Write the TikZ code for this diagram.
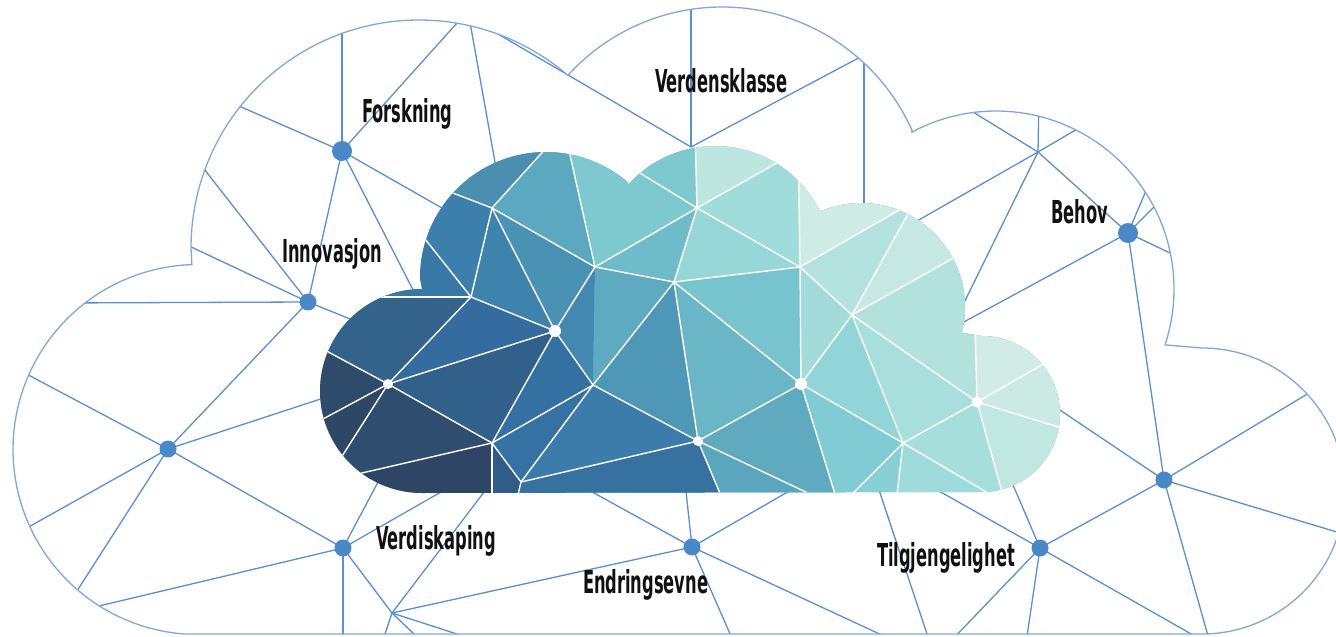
\documentclass[tikz,border=0pt]{standalone}
\usepackage{fontspec}
\newfontfamily\lblfont{DejaVu Sans}[FakeStretch=0.515]
\definecolor{netblue}{HTML}{5990CF}
\definecolor{dotblue}{HTML}{4A88C8}
\definecolor{outl}{HTML}{7FA8DA}
\definecolor{lbltext}{HTML}{111111}
\newcommand\facet[2]{\definecolor{tmpfc}{HTML}{#1}\fill[tmpfc] #2;}
\tikzset{
  outercloud/.style={insert path={(1202,634) -- (184.4,634)
    -- plot[domain=94.2:268.1,samples=90] ({198+185*cos(\x)},{449.5+185*sin(\x)})
    -- plot[domain=180:310.7,samples=90] ({419+228*cos(\x)},{248+228*sin(\x)})
    -- plot[domain=222.3:335.9,samples=70] ({722+208*cos(\x)},{215+208*sin(\x)})
    -- plot[domain=241.8:378.3,samples=70] ({996+178*cos(\x)},{289+178*sin(\x)})
    -- plot[domain=270:450,samples=90] ({1202+143*cos(\x)},{491+143*sin(\x)}) -- cycle}},
  innercloud/.style={insert path={(422,493)
    -- plot[domain=90:270,samples=70] ({422+102*cos(\x)},{391+102*sin(\x)})
    -- plot[domain=180:310.5,samples=70] ({546+126*cos(\x)},{278+126*sin(\x)})
    -- plot[domain=222:334.1,samples=60] ({715+117*cos(\x)},{263+117*sin(\x)})
    -- plot[domain=246.8:374.3,samples=60] ({861+104*cos(\x)},{307+104*sin(\x)})
    -- plot[domain=270:450,samples=60] ({982+78*cos(\x)},{414+78*sin(\x)}) -- cycle}},
  net/.style={draw=netblue, line width=0.65pt},
  wl/.style={draw=white, line width=0.7pt},
  bdot/.style={circle, fill=dotblue, inner sep=0pt, minimum size=8.5pt},
  bigdot/.style={circle, fill=dotblue, inner sep=0pt, minimum size=10pt},
  wdot/.style={circle, fill=white, inner sep=0pt, minimum size=#1},
  lbl/.style={anchor=base west, inner sep=0pt, outer sep=0pt, text=lbltext,
    font=\lblfont\bfseries\fontsize{15.8pt}{18pt}\selectfont}
}
\begin{document}
\begin{tikzpicture}[x=0.5pt,y=-0.5pt]
\useasboundingbox (0,0) rectangle (1336,636);
\fill[white] (0,0) rectangle (1336,636);
% network coordinates
\coordinate (F) at (342,151); \coordinate (I) at (308,302); \coordinate (L) at (168,449);
\coordinate (V) at (343,548); \coordinate (J1) at (392,613); \coordinate (E) at (692,547);
\coordinate (T) at (1040,548); \coordinate (R) at (1164,480); \coordinate (B) at (1128,233);
\coordinate (J2) at (1038,152); \coordinate (J3) at (691,147);
\coordinate (f1) at (342,0); \coordinate (f2) at (475,3); \coordinate (f3) at (200,89);
\coordinate (f4) at (433,329); \coordinate (f5) at (470,224);
\coordinate (t1a) at (466,0); \coordinate (t1b) at (500,190); \coordinate (t2a) at (457,10);
\coordinate (i1) at (190,151); \coordinate (i2) at (170,237); \coordinate (i3) at (60,303); \coordinate (i4) at (370,327);
\coordinate (l1) at (0,360); \coordinate (l2) at (0,543); \coordinate (l3) at (59,619); \coordinate (l4) at (345,391);
\coordinate (v1) at (61,615); \coordinate (v2) at (343,645); \coordinate (v3) at (386,467); \coordinate (v4) at (469,476);
\coordinate (j1a) at (497,475); \coordinate (j1b) at (381.5,644.5); \coordinate (j1c) at (425,644.5); \coordinate (j1d) at (489.5,644.5);
\coordinate (e1) at (685,482); \coordinate (e2) at (805,482); \coordinate (e3) at (899,643); \coordinate (e4) at (734,643); \coordinate (e5) at (574,482);
\coordinate (tt1) at (930,486); \coordinate (tt2) at (1010,478); \coordinate (tt3) at (1207,643); \coordinate (tt4) at (949,643); \coordinate (tt5) at (1026,643);
\coordinate (k1) at (877.3,485); \coordinate (k2) at (930.7,645);
\coordinate (r1) at (1048,402); \coordinate (r2) at (1334,378); \coordinate (r3) at (1370,542); \coordinate (r4) at (1212,650);
\coordinate (b1) at (1153.5,173); \coordinate (b2) at (1168,193); \coordinate (b3) at (1191,263); \coordinate (b4) at (949,330);
\coordinate (j2a) at (955,101); \coordinate (j2b) at (1039,95); \coordinate (j2c) at (1091,121); \coordinate (j2d) at (910,225); \coordinate (j2e) at (958,315);
\coordinate (j3a) at (691,0); \coordinate (j3b) at (883,45);
\coordinate (vt1) at (864,40); \coordinate (vt2) at (864,210);
% network lines
\begin{scope}
\clip[outercloud];
\draw[net] (F) -- (f1); \draw[net] (F) -- (f2); \draw[net] (F) -- (f3); \draw[net] (F) -- (f4); \draw[net] (F) -- (f5); \draw[net] (F) -- (I);
\draw[net] (t1a) -- (t1b); \draw[net] (t2a) -- (J3);
\draw[net] (I) -- (i1); \draw[net] (I) -- (i2); \draw[net] (I) -- (i3); \draw[net] (I) -- (i4); \draw[net] (I) -- (L);
\draw[net] (L) -- (l1); \draw[net] (L) -- (l2); \draw[net] (L) -- (l3); \draw[net] (L) -- (l4); \draw[net] (L) -- (V);
\draw[net] (V) -- (v1); \draw[net] (V) -- (v2); \draw[net] (V) -- (v3); \draw[net] (V) -- (v4); \draw[net] (V) -- (J1);
\draw[net] (J1) -- (j1a); \draw[net] (J1) -- (j1b); \draw[net] (J1) -- (j1c); \draw[net] (J1) -- (j1d); \draw[net] (J1) -- (E);
\draw[net] (E) -- (e1); \draw[net] (E) -- (e2); \draw[net] (E) -- (e3); \draw[net] (E) -- (e4); \draw[net] (E) -- (e5);
\draw[net] (T) -- (tt1); \draw[net] (T) -- (tt2); \draw[net] (T) -- (tt3); \draw[net] (T) -- (tt4); \draw[net] (T) -- (tt5); \draw[net] (T) -- (R);
\draw[net] (k1) -- (k2);
\draw[net] (R) -- (r1); \draw[net] (R) -- (r2); \draw[net] (R) -- (r3); \draw[net] (R) -- (r4); \draw[net] (R) -- (B);
\draw[net] (B) -- (b1); \draw[net] (B) -- (b2); \draw[net] (B) -- (b3); \draw[net] (B) -- (b4); \draw[net] (B) -- (J2);
\draw[net] (J2) -- (j2a); \draw[net] (J2) -- (j2b); \draw[net] (J2) -- (j2c); \draw[net] (J2) -- (j2d); \draw[net] (J2) -- (j2e);
\draw[net] (J3) -- (j3a); \draw[net] (J3) -- (j3b);
\draw[net] (vt1) -- (vt2);
\end{scope}
\draw[draw=outl, line width=0.65pt, outercloud];
% inner cloud coordinates
\coordinate (P1) at (492,208); \coordinate (P2) at (471,297); \coordinate (P3) at (555,331);
\coordinate (P4) at (388,384); \coordinate (P5) at (492,443); \coordinate (P6) at (593,385);
\coordinate (P7) at (595,267); \coordinate (P8) at (674,282); \coordinate (P9) at (521,482);
\coordinate (Q1) at (697,208); \coordinate (Q2) at (800,267); \coordinate (Q3) at (852,315);
\coordinate (Q4) at (801,384); \coordinate (Q5) at (698,441); \coordinate (Q6) at (903,443);
\coordinate (Q7) at (977,402);
\coordinate (a1) at (390,169); \coordinate (a2) at (557,136); \coordinate (a3) at (566,137);
\coordinate (a4) at (695,130); \coordinate (a5) at (617,159); \coordinate (a6) at (798,151);
\coordinate (a7) at (798,125); \coordinate (a8) at (915,201); \coordinate (a9) at (973,247);
\coordinate (a10) at (1075,346); \coordinate (a11) at (1074,432); \coordinate (a12) at (1005,503);
\coordinate (a14) at (896,503); \coordinate (a15) at (843,503); \coordinate (a16) at (838,504);
\coordinate (a17) at (829,503); \coordinate (a18) at (724,503); \coordinate (a19) at (516,503);
\coordinate (a20) at (492,503); \coordinate (a21) at (323,482); \coordinate (a22) at (318,494);
\coordinate (a23) at (297,433); \coordinate (a24) at (304,339); \coordinate (a25) at (300,297);
\coordinate (a26) at (402,210);
\coordinate (c1) at (300,125); \coordinate (c2) at (1090,125); \coordinate (c3) at (1090,510);
\coordinate (c4) at (300,510); \coordinate (cA) at (915,125); \coordinate (cB) at (1090,240);
\coordinate (cC) at (1090,340); \coordinate (cD) at (1090,432);
\begin{scope}
\clip[innercloud];
\fill[color={rgb,255:red,95;green,170;blue,192}] (300,120) rectangle (1090,510);
\facet{4A8FB1}{(c1) -- (a2) -- (P1) -- (a1) -- cycle}
\facet{5BA8C0}{(a2) -- (a3) -- (P7) -- (P1) -- cycle}
\facet{7EC8D0}{(a3) -- (a4) -- (Q1) -- (P7) -- cycle}
\facet{4A92B4}{(P1) -- (P7) -- (P3) -- cycle}
\facet{3E83AE}{(P1) -- (P3) -- (P2) -- cycle}
\facet{3D7FAC}{(a1) -- (P1) -- (P2) -- (a26) -- cycle}
\facet{3878A6}{(c1) -- (a1) -- (a26) -- (P2) -- (a25) -- cycle}
\facet{33628B}{(a25) -- (P2) -- (P4) -- (a24) -- cycle}
\facet{346CA0}{(P2) -- (P3) -- (P4) -- cycle}
\facet{2F4B6B}{(a24) -- (P4) -- (a23) -- cycle}
\facet{2D4765}{(a23) -- (P4) -- (a22) -- cycle}
\facet{2F4E6F}{(a22) -- (P4) -- (P5) -- (a21) -- cycle}
\facet{31608A}{(P4) -- (P3) -- (P5) -- cycle}
\facet{3470A1}{(P3) -- (P6) -- (P5) -- cycle}
\facet{4388B0}{(P3) -- (P7) -- (P6) -- cycle}
\facet{5EAAC1}{(P7) -- (P8) -- (P6) -- cycle}
\facet{4E97B6}{(P6) -- (P8) -- (Q5) -- cycle}
\facet{3571A2}{(P5) -- (P6) -- (P9) -- cycle}
\facet{2F4565}{(a21) -- (P5) -- (a20) -- (c4) -- cycle}
\facet{305C88}{(P5) -- (P9) -- (a19) -- (a20) -- cycle}
\facet{3B7CAA}{(P9) -- (P6) -- (Q5) -- cycle}
\facet{3671A0}{(a19) -- (P9) -- (Q5) -- (a18) -- cycle}
\facet{6EBBC9}{(P7) -- (Q1) -- (P8) -- cycle}
\facet{BEE6E0}{(a4) -- (a7) -- (a6) -- (Q1) -- cycle}
\facet{A0DCDA}{(Q1) -- (a6) -- (Q2) -- cycle}
\facet{CEEBE5}{(a6) -- (a7) -- (cA) -- (a8) -- (Q2) -- cycle}
\facet{B4E2DE}{(Q2) -- (a8) -- (Q3) -- cycle}
\facet{D6EEE9}{(a8) -- (cA) -- (c2) -- (cB) -- (a9) -- cycle}
\facet{C6E8E2}{(a8) -- (a9) -- (Q3) -- cycle}
\facet{B3E2DD}{(Q3) -- (a9) -- (Q7) -- cycle}
\facet{D1ECE6}{(a9) -- (cB) -- (cC) -- (a10) -- (Q7) -- cycle}
\facet{CCEAE4}{(Q7) -- (a10) -- (cC) -- (cD) -- (a11) -- cycle}
\facet{C1E7E1}{(Q7) -- (a11) -- (cD) -- (c3) -- (a12) -- cycle}
\facet{A5DEDB}{(Q6) -- (Q7) -- (a12) -- cycle}
\facet{A8DFDC}{(Q3) -- (Q7) -- (Q6) -- cycle}
\facet{92D5D8}{(Q3) -- (Q6) -- (Q4) -- cycle}
\facet{A2DBDA}{(Q2) -- (Q3) -- (Q4) -- cycle}
\facet{77C3CE}{(P8) -- (Q2) -- (Q4) -- cycle}
\facet{98D7D8}{(P8) -- (Q1) -- (Q2) -- cycle}
\facet{6AB5C6}{(P8) -- (Q4) -- (Q5) -- cycle}
\facet{60AABF}{(Q4) -- (Q5) -- (a17) -- (a16) -- cycle}
\facet{5BA6BD}{(Q5) -- (a18) -- (a17) -- cycle}
\facet{80CBD4}{(Q4) -- (Q6) -- (a15) -- (a16) -- cycle}
\facet{88D0D6}{(Q6) -- (a14) -- (a15) -- cycle}
\facet{9FDBDA}{(Q6) -- (a12) -- (a14) -- cycle}
% white lines
\draw[wl] (P1) -- (a1); \draw[wl] (P1) -- (a2); \draw[wl] (P1) -- (P7); \draw[wl] (P1) -- (P2); \draw[wl] (P1) -- (P3);
\draw[wl] (a3) -- (P7); \draw[wl] (P7) -- (Q1); \draw[wl] (P7) -- (P8); \draw[wl] (P7) -- (P3);
\draw[wl] (P2) -- (a26); \draw[wl] (P2) -- (a25); \draw[wl] (P2) -- (P3); \draw[wl] (P2) -- (P4);
\draw[wl] (P4) -- (a24); \draw[wl] (P4) -- (a23); \draw[wl] (P4) -- (a22); \draw[wl] (P4) -- (P3); \draw[wl] (P4) -- (P5);
\draw[wl] (P3) -- (P5); \draw[wl] (P3) -- (P6);
\draw[wl] (P6) -- (P5); \draw[wl] (P6) -- (P9); \draw[wl] (P6) -- (P8); \draw[wl] (P6) -- (Q5);
\draw[wl] (P5) -- (a21); \draw[wl] (P5) -- (P9); \draw[wl] (P5) -- (a20);
\draw[wl] (P9) -- (Q5); \draw[wl] (P9) -- (a19);
\draw[wl] (P8) -- (Q1); \draw[wl] (P8) -- (Q2); \draw[wl] (P8) -- (Q4); \draw[wl] (P8) -- (Q5);
\draw[wl] (Q1) -- (a4); \draw[wl] (Q1) -- (a6); \draw[wl] (Q1) -- (Q2); \draw[wl] (Q1) -- (a5);
\draw[wl] (a7) -- (Q2); \draw[wl] (Q2) -- (Q4);
\draw[wl] (Q2) -- (a8); \draw[wl] (Q2) -- (Q3);
\draw[wl] (Q3) -- (a8); \draw[wl] (Q3) -- (a9); \draw[wl] (Q3) -- (Q4); \draw[wl] (Q3) -- (Q6); \draw[wl] (Q3) -- (Q7);
\draw[wl] (a8) -- (a9); \draw[wl] (a9) -- (Q7);
\draw[wl] (Q4) -- (Q5); \draw[wl] (Q4) -- (Q6); \draw[wl] (Q4) -- (a16);
\draw[wl] (Q5) -- (a18); \draw[wl] (Q5) -- (a17);
\draw[wl] (Q6) -- (Q7); \draw[wl] (Q6) -- (a15); \draw[wl] (Q6) -- (a14); \draw[wl] (Q6) -- (a12);
\draw[wl] (Q7) -- (a10); \draw[wl] (Q7) -- (a11); \draw[wl] (Q7) -- (a12);
\end{scope}
% white dots
\node[wdot=6pt] (dP3) at (P3) {};
\node[wdot=5pt] (dP4) at (P4) {};
\node[wdot=6pt] (dQ4) at (Q4) {};
\node[wdot=5pt] (dQ5) at (Q5) {};
\node[wdot=5.5pt] (dQ7) at (Q7) {};
% blue dots
\node[bigdot] (dF) at (F) {};
\node[bdot] (dI) at (I) {};
\node[bdot] (dL) at (L) {};
\node[bdot] (dV) at (V) {};
\node[bdot] (dE) at (E) {};
\node[bdot] (dT) at (T) {};
\node[bdot] (dR) at (R) {};
\node[bigdot] (dB) at (B) {};
% labels
\node[lbl] (tForsk) at (362,123) {Forskning};
\node[lbl] (tInnov) at (282,262) {Innovasjon};
\node[lbl] (tVerden) at (655,93) {Verdensklasse};
\node[lbl] (tBehov) at (1051,223) {Behov};
\node[lbl] (tVerdi) at (376,549) {Verdiskaping};
\node[lbl] (tEndr) at (583,593) {Endringsevne};
\node[lbl] (tTilg) at (877,566) {Tilgjengelighet};
\end{tikzpicture}
\end{document}
